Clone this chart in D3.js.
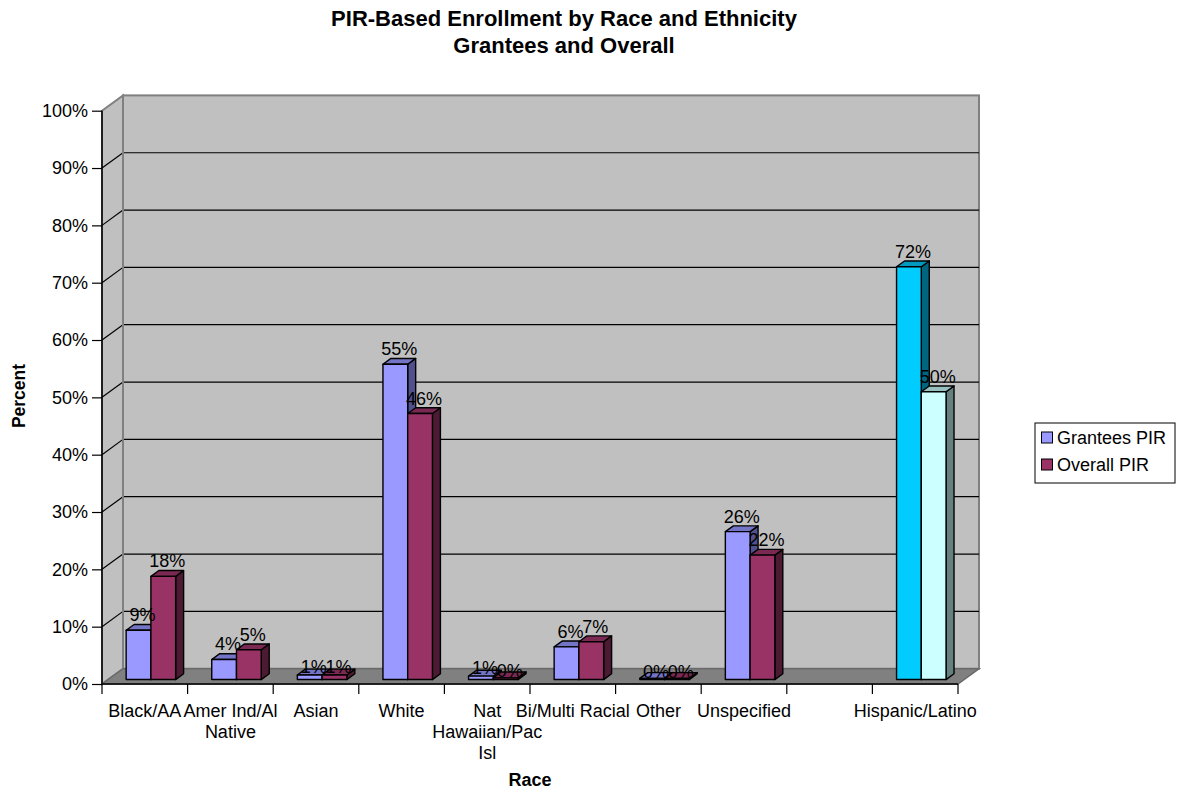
<!DOCTYPE html>
<html>
<head>
<meta charset="utf-8">
<script src="https://cdn.jsdelivr.net/npm/d3@7/dist/d3.min.js"></script>
<style>
  html, body { margin: 0; padding: 0; background: #fff; }
  svg { display: block; font-family: "Liberation Sans", Arial, sans-serif; }
</style>
</head>
<body>
<svg id="chart" width="1177" height="791"></svg>
<script>
// ---- data ----
const titleLines = ["PIR-Based Enrollment by Race and Ethnicity", "Grantees and Overall"];
const categories = ["Black/AA", "Amer Ind/Al Native", "Asian", "White", "Nat Hawaiian/Pac Isl",
                    "Bi/Multi Racial", "Other", "Unspecified", "", "Hispanic/Latino"];
const seriesNames = ["Grantees PIR", "Overall PIR"];
const granteesPIR = [8.6, 3.5, 0.8, 55.0, 0.6, 5.7, 0.2, 25.8, null, 72.0];
const overallPIR  = [18.0, 5.2, 0.8, 46.4, 0.3, 6.6, 0.2, 21.7, null, 50.2];
const yTicks = [0, 10, 20, 30, 40, 50, 60, 70, 80, 90, 100];
const yAxisTitle = "Percent";
const xAxisTitle = "Race";

// ---- styles ----
const seriesColors = {
  "Grantees PIR": { front: "#9999FF", top: "#7474C6", side: "#50508E" },
  "Overall PIR":  { front: "#993366", top: "#7A2952", side: "#4D1A33" }
};
const highlightCategory = "Hispanic/Latino";
const highlightColors = {
  "Grantees PIR": { front: "#00CCFF", top: "#0099C0", side: "#006680" },
  "Overall PIR":  { front: "#CCFFFF", top: "#99C0C0", side: "#668080" }
};

const svg = d3.select("#chart");
const F = { left: 102, right: 958, bottom: 684, top: 110.7 };
const D = { dx: 21, dy: -15.3 };           // depth offset of back wall
const z0 = 0.29, zd = 0.38;                  // bar depth placement

const y = d3.scaleLinear().domain([0, 100]).range([F.bottom, F.top]);
const x = d3.scaleBand().domain(d3.range(categories.length)).range([F.left, F.right]);
const xs = d3.scaleBand().domain(seriesNames).range([0, x.bandwidth()]).paddingOuter(0.73);

// ---- walls ----
const bx0 = F.left + D.dx, bx1 = F.right + D.dx;
const byTop = y(100) + D.dy, byBot = y(0) + D.dy;

svg.append("rect").attr("x", bx0).attr("y", byTop).attr("width", bx1 - bx0).attr("height", byBot - byTop)
  .attr("fill", "#C0C0C0").attr("stroke", "#808080").attr("stroke-width", 2);
svg.append("polygon")
  .attr("points", [[F.left, y(100)], [bx0, byTop], [bx0, byBot], [F.left, y(0)]].join(" "))
  .attr("fill", "#C0C0C0").attr("stroke", "#808080").attr("stroke-width", 2);

// gridlines
const grid = svg.append("g");
yTicks.filter(t => t > 0 && t < 100).forEach(t => {
  grid.append("line").attr("x1", bx0).attr("x2", bx1).attr("y1", y(t) + D.dy).attr("y2", y(t) + D.dy)
    .attr("stroke", "#000").attr("stroke-width", 1.2);
  grid.append("line").attr("x1", F.left).attr("x2", bx0).attr("y1", y(t)).attr("y2", y(t) + D.dy)
    .attr("stroke", "#000").attr("stroke-width", 1.2);
});
svg.append("line").attr("x1", bx0).attr("x2", bx0).attr("y1", byTop).attr("y2", byBot)
  .attr("stroke", "#808080").attr("stroke-width", 2);

// floor
svg.append("polygon")
  .attr("points", [[F.left, y(0)], [F.right, y(0)], [bx1, byBot], [bx0, byBot]].join(" "))
  .attr("fill", "#808080").attr("stroke", "#6A6A6A").attr("stroke-width", 1.5);

// ---- axes ----
const yAxis = d3.axisLeft(y).tickValues(yTicks).tickSize(10).tickPadding(4).tickFormat(d => d + "%");
const gy = svg.append("g").attr("transform", `translate(${F.left},0)`).call(yAxis);
gy.select(".domain").attr("stroke", "#000").attr("stroke-width", 1.5).attr("d", `M0,${y(100)}V${y(0)}`);
gy.selectAll(".tick line").attr("stroke", "#000").attr("stroke-width", 1.2);
gy.selectAll(".tick text").attr("font-size", 18).attr("fill", "#000")
  .attr("font-family", "'Liberation Sans', Arial, sans-serif");

const xAxis = d3.axisBottom(x).tickSize(0).tickFormat(() => "");
const gx = svg.append("g").attr("transform", `translate(0,${F.bottom})`).call(xAxis);
gx.select(".domain").attr("stroke", "#000").attr("stroke-width", 1.5).attr("d", `M${F.left},0H${F.right}`);
const boundaries = d3.range(categories.length + 1).map(i => F.left + i * x.step());
gx.selectAll("line.bt").data(boundaries).join("line").attr("class", "bt")
  .attr("x1", d => d).attr("x2", d => d).attr("y1", 0).attr("y2", 10)
  .attr("stroke", "#000").attr("stroke-width", 1.2);

// category labels with wrapping
const labelG = svg.append("g").attr("font-size", 18).attr("fill", "#000").attr("text-anchor", "middle");
categories.forEach((c, i) => {
  if (!c) return;
  const t = labelG.append("text").attr("x", x(i) + x.bandwidth() / 2).attr("y", 717);
  const words = c.split(" ");
  let lines = [], cur = "";
  const probe = labelG.append("text").attr("visibility", "hidden");
  words.forEach(w => {
    const test = cur ? cur + " " + w : w;
    probe.text(test);
    if (probe.node().getComputedTextLength() > 130 && cur) { lines.push(cur); cur = w; }
    else cur = test;
  });
  lines.push(cur);
  probe.remove();
  lines.forEach((ln, k) => {
    t.append("tspan").attr("x", x(i) + x.bandwidth() / 2).attr("dy", k === 0 ? 0 : 21).text(ln);
  });
});

// ---- bars ----
const series = [
  { name: seriesNames[0], values: granteesPIR },
  { name: seriesNames[1], values: overallPIR }
];
const bw = xs.bandwidth();
const ddx = zd * D.dx, ddy = zd * D.dy;
const barsG = svg.append("g");
const labels = [];
categories.forEach((c, i) => {
  series.forEach(s => {
    const v = s.values[i];
    if (v == null) return;
    const col = (c === highlightCategory ? highlightColors : seriesColors)[s.name];
    const fx = x(i) + xs(s.name) + z0 * D.dx;
    const by = y(0) + z0 * D.dy;
    const ty = y(v) + z0 * D.dy;
    const g = barsG.append("g").attr("stroke", "#000").attr("stroke-width", 1.4).attr("stroke-linejoin", "round");
    g.append("polygon").attr("fill", col.side)
      .attr("points", [[fx + bw, ty], [fx + bw + ddx, ty + ddy], [fx + bw + ddx, by + ddy], [fx + bw, by]].join(" "));
    g.append("polygon").attr("fill", col.top)
      .attr("points", [[fx, ty], [fx + bw, ty], [fx + bw + ddx, ty + ddy], [fx + ddx, ty + ddy]].join(" "));
    g.append("rect").attr("fill", col.front).attr("x", fx).attr("y", ty).attr("width", bw).attr("height", by - ty);
    const off = Math.min(9, (by - ty) * 0.5);
    labels.push({ x: fx + bw / 2 + ddx / 2, y: ty - off, text: Math.round(v) + "%" });
  });
});
svg.append("g").attr("font-size", 18).attr("fill", "#000").attr("text-anchor", "middle")
  .selectAll("text").data(labels).join("text")
  .attr("x", d => d.x).attr("y", d => d.y).text(d => d.text);

// ---- titles ----
svg.append("g").attr("font-size", 22).attr("font-weight", "bold").attr("text-anchor", "middle")
  .selectAll("text").data(titleLines).join("text")
  .attr("x", 564).attr("y", (d, i) => 26 + i * 27).text(d => d);
svg.append("text").attr("transform", "translate(25,396) rotate(-90)").attr("text-anchor", "middle")
  .attr("font-size", 17.5).attr("font-weight", "bold").text(yAxisTitle);
svg.append("text").attr("x", (F.left + F.right) / 2).attr("y", 786).attr("text-anchor", "middle")
  .attr("font-size", 18).attr("font-weight", "bold").text(xAxisTitle);

// ---- legend ----
const lg = svg.append("g").attr("transform", "translate(1035,423)");
lg.append("rect").attr("width", 140).attr("height", 60).attr("fill", "#fff").attr("stroke", "#000").attr("stroke-width", 1);
seriesNames.forEach((n, k) => {
  lg.append("rect").attr("x", 6.5).attr("y", 9 + k * 27).attr("width", 11).attr("height", 11)
    .attr("fill", seriesColors[n].front).attr("stroke", "#000").attr("stroke-width", 1);
  lg.append("text").attr("x", 22).attr("y", 20.5 + k * 27).attr("font-size", 18).text(n);
});
</script>
</body>
</html>
